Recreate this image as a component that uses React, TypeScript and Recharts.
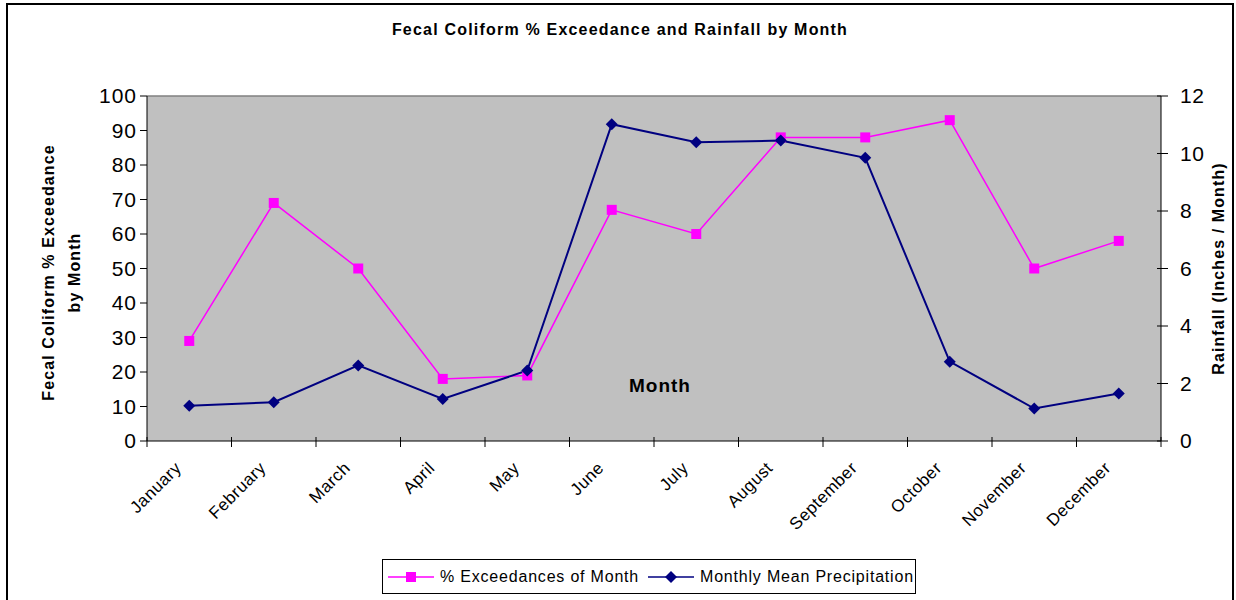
import { ComposedChart, Line, XAxis, YAxis, CartesianGrid, ReferenceLine } from 'recharts';

const months = [
  'January', 'February', 'March', 'April', 'May', 'June',
  'July', 'August', 'September', 'October', 'November', 'December',
];
const exceedance = [29, 69, 50, 18, 19, 67, 60, 88, 88, 93, 50, 58];
const precipitation = [1.23, 1.35, 2.63, 1.46, 2.45, 11.02, 10.39, 10.45, 9.85, 2.76, 1.13, 1.65];
const leftTicks = [0, 10, 20, 30, 40, 50, 60, 70, 80, 90, 100];
const rightTicks = [0, 2, 4, 6, 8, 10, 12];

const data = months.map((month, i) => ({
  month,
  exceedance: exceedance[i],
  precipitation: precipitation[i],
}));

const PINK = '#FF00FF';
const NAVY = '#000080';
const FONT = 'Arial, "Liberation Sans", sans-serif';

function MonthTick({ x, y, payload, index }: any) {
  const half = payload?.offset ?? 42.25;
  return (
    <g>
      <line x1={x - half} x2={x - half} y1={y - 4} y2={y + 6} stroke="#000" />
      {index === months.length - 1 && (
        <line x1={x + half} x2={x + half} y1={y - 4} y2={y + 6} stroke="#000" />
      )}
      <text
        transform={`translate(${x - 7}, ${y + 28}) rotate(-45)`}
        textAnchor="end"
        fontSize={17}
        letterSpacing={0.5}
        fontFamily={FONT}
        fill="#000"
      >
        {payload.value}
      </text>
    </g>
  );
}

function RightTick({ x, y, payload }: any) {
  return (
    <g>
      <line x1={x - 6} x2={x + 5} y1={y} y2={y} stroke="#000" />
      <text x={x + 17} y={y} dy={7} fontSize={21} letterSpacing={0.5} fontFamily={FONT} fill="#000">
        {payload.value}
      </text>
    </g>
  );
}

function LeftLabel({ viewBox }: any) {
  const cy = viewBox.y + viewBox.height / 2 + 4;
  return (
    <g fontSize={16} fontWeight="bold" letterSpacing={1.1} fontFamily={FONT} fill="#000">
      <text x={48} y={cy} transform={`rotate(-90, 48, ${cy})`} textAnchor="middle" dominantBaseline="central">
        Fecal Coliform % Exceedance
      </text>
      <text x={74} y={cy} transform={`rotate(-90, 74, ${cy})`} textAnchor="middle" dominantBaseline="central">
        by Month
      </text>
    </g>
  );
}

function RightLabel({ viewBox }: any) {
  const cx = viewBox.x + 57;
  const cy = viewBox.y + viewBox.height / 2;
  return (
    <text
      x={cx}
      y={cy}
      transform={`rotate(-90, ${cx}, ${cy})`}
      textAnchor="middle"
      dominantBaseline="central"
      fontSize={16}
      fontWeight="bold"
      letterSpacing={1.1}
      fontFamily={FONT}
      fill="#000"
    >
      Rainfall (Inches / Month)
    </text>
  );
}

function Diamond({ cx, cy, fill }: any) {
  if (cx == null || cy == null) return null;
  return <path d={`M${cx},${cy - 6}L${cx + 6},${cy}L${cx},${cy + 6}L${cx - 6},${cy}Z`} fill={fill} />;
}

function Square({ cx, cy, fill }: any) {
  if (cx == null || cy == null) return null;
  return <rect x={cx - 5} y={cy - 5} width={10} height={10} fill={fill} />;
}

function ChartLegend() {
  const item = (label: string, color: string, marker: 'square' | 'diamond', gap: number) => (
    <div style={{ display: 'flex', alignItems: 'center', marginRight: gap }}>
      <svg width={46} height={14} style={{ marginRight: 6 }}>
        <line x1={0} x2={46} y1={7} y2={7} stroke={color} strokeWidth={1.5} />
        {marker === 'square' ? (
          <rect x={18} y={2} width={10} height={10} fill={color} />
        ) : (
          <path d="M23,1L29,7L23,13L17,7Z" fill={color} />
        )}
      </svg>
      <span>{label}</span>
    </div>
  );
  return (
    <div
      style={{
        position: 'absolute',
        left: 382,
        top: 559,
        width: 534,
        height: 35,
        boxSizing: 'border-box',
        border: '1px solid #000',
        display: 'flex',
        alignItems: 'center',
        paddingLeft: 5,
        fontFamily: FONT,
        fontSize: 16,
        letterSpacing: 0.8,
        whiteSpace: 'nowrap',
        background: '#fff',
      }}
    >
      {item('% Exceedances of Month', PINK, 'square', 9)}
      {item('Monthly Mean Precipitation', NAVY, 'diamond', 0)}
    </div>
  );
}

export default function App() {
  return (
    <div style={{ position: 'absolute', left: 0, top: 0, width: 1236, height: 600, background: '#fff', overflow: 'hidden' }}>
      <div
        style={{
          position: 'absolute',
          left: 6,
          top: 3,
          width: 1228,
          height: 620,
          border: '2px solid #000',
          boxSizing: 'border-box',
        }}
      />
      <div
        style={{
          position: 'absolute',
          left: 0,
          top: 21,
          width: 1240,
          textAlign: 'center',
          fontFamily: FONT,
          fontWeight: 'bold',
          fontSize: 16,
          letterSpacing: 1.2,
        }}
      >
        Fecal Coliform % Exceedance and Rainfall by Month
      </div>
      <div style={{ position: 'absolute', left: 0, top: 0 }}>
        <ComposedChart
          width={1236}
          height={600}
          data={data}
          margin={{ top: 96, right: 15, bottom: 79, left: 20 }}
        >
          <CartesianGrid fill="#C0C0C0" horizontal={false} vertical={false} />
          <ReferenceLine yAxisId="left" y={100} stroke="#808080" strokeWidth={1.5} />
          <XAxis
            dataKey="month"
            scale="band"
            height={80}
            tickSize={0}
            tickMargin={0}
            tickLine={false}
            axisLine={{ stroke: '#000' }}
            tick={<MonthTick />}
            interval={0}
            label={{
              value: 'Month',
              position: 'top',
              offset: 49,
              dx: 6,
              fontSize: 19,
              fontWeight: 'bold',
              fontFamily: FONT,
              fill: '#000',
              letterSpacing: 1,
            }}
          />
          <YAxis
            yAxisId="left"
            width={127}
            domain={[0, 100]}
            ticks={leftTicks}
            interval={0}
            tickSize={7}
            tickMargin={3}
            tickLine={{ stroke: '#000' }}
            axisLine={{ stroke: '#000' }}
            tick={{ fontSize: 21, fontFamily: FONT, fill: '#000', letterSpacing: 1 }}
            label={{ content: <LeftLabel /> }}
          />
          <YAxis
            yAxisId="right"
            orientation="right"
            width={60}
            domain={[0, 12]}
            ticks={rightTicks}
            interval={0}
            tickSize={0}
            tickLine={false}
            axisLine={{ stroke: '#000' }}
            tick={<RightTick />}
            label={{ content: <RightLabel /> }}
          />
          <Line
            yAxisId="left"
            dataKey="exceedance"
            stroke={PINK}
            strokeWidth={1.5}
            dot={<Square fill={PINK} />}
            activeDot={false}
            isAnimationActive={false}
          />
          <Line
            yAxisId="right"
            dataKey="precipitation"
            stroke={NAVY}
            strokeWidth={2}
            dot={<Diamond fill={NAVY} />}
            activeDot={false}
            isAnimationActive={false}
          />
        </ComposedChart>
      </div>
      <ChartLegend />
    </div>
  );
}
